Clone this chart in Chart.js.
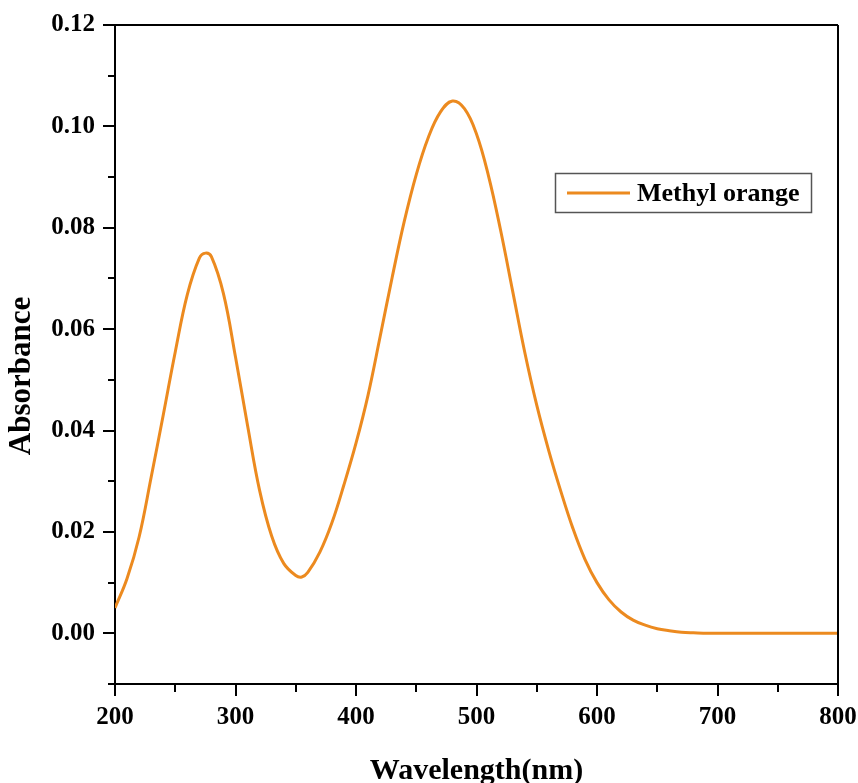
<!DOCTYPE html>
<html>
<head>
<meta charset="utf-8">
<script src="https://cdn.jsdelivr.net/npm/chart.js@4.4.1/dist/chart.umd.min.js"></script>
<style>
  html, body { margin: 0; padding: 0; background: #fff; }
  #wrap { width: 858px; height: 783px; position: relative; }
</style>
</head>
<body>
<div id="wrap"><canvas id="c" width="858" height="783"></canvas></div>
<script>
const seriesLabel = 'Methyl orange';
const xTitle = 'Wavelength(nm)';
const yTitle = 'Absorbance';

const wavelengths = [200,210,220,230,240,250,260,270,275,280,290,300,310,320,330,340,350,355,360,370,380,390,400,410,420,430,440,450,460,470,480,490,500,510,520,530,540,550,560,570,580,590,600,610,620,630,640,650,660,670,680,700,750,800];
const absorbance  = [0.0050,0.0108,0.0190,0.0308,0.0430,0.0555,0.0668,0.0740,0.0750,0.0743,0.0670,0.0545,0.0410,0.0282,0.0192,0.0138,0.0114,0.0111,0.0120,0.0160,0.0218,0.0293,0.0375,0.0470,0.0585,0.0702,0.0812,0.0905,0.0978,0.1028,0.1050,0.1035,0.0985,0.0902,0.0795,0.0675,0.0555,0.0450,0.0360,0.0280,0.0207,0.0146,0.0100,0.0066,0.0042,0.0026,0.0016,0.0009,0.0005,0.0002,0.0001,0.0000,0.0000,0.0000];

const xMajorTicks = [200,300,400,500,600,700,800];
const xMinorTicks = [250,350,450,550,650,750];
const yMajorTicks = [0,0.02,0.04,0.06,0.08,0.10,0.12];
const yMinorTicks = [-0.01,0.01,0.03,0.05,0.07,0.09,0.11];

const lineColor = '#EC8A1F';
const serif = '"Liberation Serif", "Times New Roman", serif';

const framePlugin = {
  id: 'frameAndMinor',
  afterDraw(chart) {
    const ctx = chart.ctx;
    const a = chart.chartArea;
    const xs = chart.scales.x, ys = chart.scales.y;
    ctx.save();
    ctx.strokeStyle = '#000';
    ctx.lineWidth = 2;
    ctx.beginPath();
    ctx.moveTo(a.left, a.top); ctx.lineTo(a.right, a.top);
    ctx.moveTo(a.right, a.top); ctx.lineTo(a.right, a.bottom);
    ctx.stroke();
    ctx.beginPath();
    yMinorTicks.forEach(v => {
      const y = Math.round(ys.getPixelForValue(v));
      ctx.moveTo(a.left, y); ctx.lineTo(a.left - 7, y);
    });
    xMinorTicks.forEach(v => {
      const x = Math.round(xs.getPixelForValue(v));
      ctx.moveTo(x, a.bottom); ctx.lineTo(x, a.bottom + 8);
    });
    ctx.stroke();
    ctx.fillStyle = '#000';
    ctx.font = 'bold 31px ' + serif;
    ctx.textAlign = 'center';
    ctx.textBaseline = 'middle';
    ctx.translate(22, 376);
    ctx.rotate(-Math.PI / 2);
    ctx.fillText(yTitle, 0, 0);
    ctx.restore();

    ctx.save();
    const ds = chart.data.datasets[0];
    ctx.strokeStyle = '#555';
    ctx.lineWidth = 1.5;
    ctx.strokeRect(555.5, 173.5, 256, 39);
    ctx.strokeStyle = ds.borderColor;
    ctx.lineWidth = 3;
    ctx.beginPath();
    ctx.moveTo(567, 193); ctx.lineTo(630, 193);
    ctx.stroke();
    ctx.fillStyle = '#000';
    ctx.font = 'bold 26px ' + serif;
    ctx.textAlign = 'left';
    ctx.textBaseline = 'middle';
    ctx.fillText(ds.label, 637, 194);
    ctx.restore();
  }
};

new Chart(document.getElementById('c'), {
  type: 'line',
  data: {
    datasets: [{
      label: seriesLabel,
      data: wavelengths.map((w, i) => ({ x: w, y: absorbance[i] })),
      borderColor: lineColor,
      backgroundColor: lineColor,
      borderWidth: 3,
      pointRadius: 0,
      tension: 0.4,
      fill: false
    }]
  },
  options: {
    responsive: false,
    animation: false,
    devicePixelRatio: 1,
    layout: { padding: { top: 25, right: 20, left: 0, bottom: 0 } },
    plugins: { legend: { display: false }, tooltip: { enabled: false } },
    scales: {
      x: {
        type: 'linear',
        min: 200, max: 800,
        afterBuildTicks(s) { s.ticks = xMajorTicks.map(v => ({ value: v })); },
        afterFit(s) { s.height = 99; s.paddingLeft = 0; s.paddingRight = 0; },
        grid: { drawOnChartArea: false, drawTicks: true, tickLength: 12, color: '#000', lineWidth: 2 },
        border: { display: true, color: '#000', width: 2 },
        ticks: {
          color: '#000', padding: 7,
          font: { family: serif, size: 25, weight: 'bold' },
          callback: v => String(v),
          maxRotation: 0, autoSkip: false
        },
        title: {
          display: true, text: xTitle, color: '#000',
          font: { family: serif, size: 30, weight: 'bold', lineHeight: 1 },
          padding: { top: 0, bottom: -3 }
        }
      },
      y: {
        type: 'linear',
        min: -0.01, max: 0.12,
        afterBuildTicks(s) { s.ticks = yMajorTicks.map(v => ({ value: v })); },
        afterFit(s) { s.width = 115; s.paddingTop = 0; s.paddingBottom = 0; },
        grid: { drawOnChartArea: false, drawTicks: true, tickLength: 12, color: '#000', lineWidth: 2 },
        border: { display: true, color: '#000', width: 2 },
        ticks: {
          color: '#000', padding: 8,
          font: { family: serif, size: 25, weight: 'bold' },
          callback: v => Number(v).toFixed(2),
          autoSkip: false
        }
      }
    }
  },
  plugins: [framePlugin]
});
</script>
</body>
</html>
